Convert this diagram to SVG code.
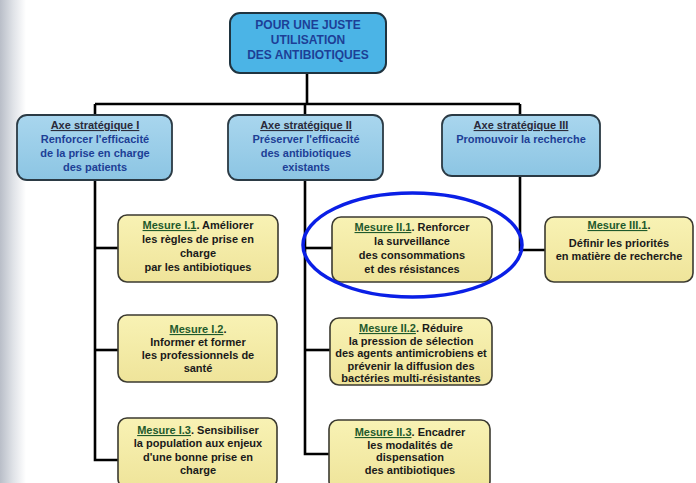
<svg xmlns="http://www.w3.org/2000/svg" width="696" height="483" viewBox="0 0 696 483">
<defs>
<linearGradient id="edge" x1="0" y1="0" x2="1" y2="0">
<stop offset="0" stop-color="#b9bec8"/>
<stop offset="0.5" stop-color="#dfe2e7"/>
<stop offset="1" stop-color="#ffffff"/>
</linearGradient>
<linearGradient id="axeFill" x1="0" y1="0" x2="0" y2="1">
<stop offset="0" stop-color="#a9d6ee"/>
<stop offset="1" stop-color="#8cc5e3"/>
</linearGradient>
<linearGradient id="mesFill" x1="0" y1="0" x2="0" y2="1">
<stop offset="0" stop-color="#f8f2b4"/>
<stop offset="1" stop-color="#efe49a"/>
</linearGradient>
</defs>
<style>
text{font-family:"Liberation Sans",Arial,sans-serif;font-weight:bold;text-anchor:middle;}
.top rect{fill:#4bb4e6;stroke:#1f3440;stroke-width:2;}
.top text{font-size:12px;fill:#1d3f96;}
.axe rect{fill:url(#axeFill);stroke:#2b3a44;stroke-width:1.8;}
.axe text{font-size:11px;fill:#1d3f96;}
.axe .h{fill:#2a2a3a;text-decoration:underline;}
.mes rect{fill:url(#mesFill);stroke:#3b3a30;stroke-width:1.6;}
.mes text{font-size:11px;fill:#1a1a1a;}
.mes .u{fill:#1f5a2c;text-decoration:underline;}
.conn path{fill:none;stroke:#000;stroke-width:2.6;}
</style>
<rect x="0" y="0" width="696" height="483" fill="#ffffff"/>
<rect x="0" y="0" width="26" height="483" fill="url(#edge)"/>

<g id="connectors" class="conn">
<path d="M307,72 V104"/>
<path d="M95,104 H520"/>
<path d="M95,104 V460 H118"/>
<path d="M95,248 H118"/>
<path d="M95,350 H118"/>
<path d="M305,104 V454 H330"/>
<path d="M305,248 H332"/>
<path d="M305,350 H330"/>
<path d="M520,104 V250 H545"/>
</g>

<g id="root" class="top">
<rect x="230" y="13" width="156" height="60" rx="10"/>
<text x="308" y="29">POUR UNE JUSTE</text>
<text x="308" y="44">UTILISATION</text>
<text x="308" y="59">DES ANTIBIOTIQUES</text>
</g>

<g id="axe1" class="axe">
<rect x="17" y="115" width="155" height="65" rx="10"/>
<text x="95" y="129" class="h">Axe stratégique I</text>
<text x="95" y="143">Renforcer l'efficacité</text>
<text x="95" y="157">de la prise en charge</text>
<text x="95" y="171">des patients</text>
</g>

<g id="axe2" class="axe">
<rect x="228" y="115" width="155" height="65" rx="10"/>
<text x="306" y="129" class="h">Axe stratégique II</text>
<text x="306" y="143">Préserver l'efficacité</text>
<text x="306" y="157">des antibiotiques</text>
<text x="306" y="171">existants</text>
</g>

<g id="axe3" class="axe">
<rect x="442" y="115" width="158" height="61" rx="10"/>
<text x="521" y="129" class="h">Axe stratégique III</text>
<text x="521" y="143">Promouvoir la recherche</text>
</g>

<g id="m11" class="mes">
<rect x="118" y="215" width="160" height="67" rx="9"/>
<text x="198" y="229"><tspan class="u">Mesure I.1</tspan>. Améliorer</text>
<text x="198" y="243">les règles de prise en</text>
<text x="198" y="257">charge</text>
<text x="198" y="271">par les antibiotiques</text>
</g>

<g id="m12" class="mes">
<rect x="118" y="315" width="159" height="67" rx="9"/>
<text x="198" y="333"><tspan class="u">Mesure I.2</tspan>.</text>
<text x="198" y="346">Informer et former</text>
<text x="198" y="359">les professionnels de</text>
<text x="198" y="372">santé</text>
</g>

<g id="m13" class="mes">
<rect x="118" y="418" width="159" height="70" rx="9"/>
<text x="198" y="434"><tspan class="u">Mesure I.3</tspan>. Sensibiliser</text>
<text x="198" y="447">la population aux enjeux</text>
<text x="198" y="461">d'une bonne prise en</text>
<text x="198" y="474">charge</text>
</g>

<g id="m21" class="mes">
<rect x="332" y="217" width="160" height="65" rx="9"/>
<text x="412" y="231"><tspan class="u">Mesure II.1</tspan>. Renforcer</text>
<text x="412" y="245">la surveillance</text>
<text x="412" y="259">des consommations</text>
<text x="412" y="273">et des résistances</text>
</g>

<g id="m22" class="mes">
<rect x="330" y="318" width="162" height="67" rx="9"/>
<text x="411" y="332"><tspan class="u">Mesure II.2</tspan>. Réduire</text>
<text x="411" y="344.5">la pression de sélection</text>
<text x="411" y="357">des agents antimicrobiens et</text>
<text x="411" y="369.5">prévenir la diffusion des</text>
<text x="411" y="382">bactéries multi-résistantes</text>
</g>

<g id="m23" class="mes">
<rect x="329" y="420" width="161" height="70" rx="9"/>
<text x="410" y="436"><tspan class="u">Mesure II.3</tspan>. Encadrer</text>
<text x="410" y="448.5">les modalités de</text>
<text x="410" y="461">dispensation</text>
<text x="410" y="473.5">des antibiotiques</text>
</g>

<g id="m31" class="mes">
<rect x="545" y="217" width="148" height="65" rx="9"/>
<text x="619" y="229"><tspan class="u">Mesure III.1</tspan>.</text>
<text x="619" y="247">Définir les priorités</text>
<text x="619" y="260">en matière de recherche</text>
</g>

<g id="highlight">
<ellipse cx="412.5" cy="245" rx="109.5" ry="52" fill="none" stroke="#0a1fe6" stroke-width="3.5"/>
</g>
</svg>
